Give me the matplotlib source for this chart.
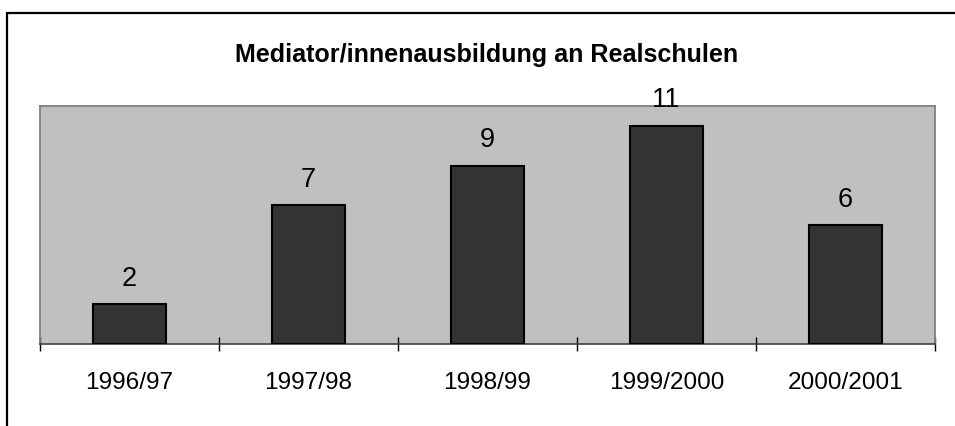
import matplotlib
matplotlib.use("Agg")
import matplotlib.pyplot as plt
from matplotlib.patches import Rectangle

categories = ["1996/97", "1997/98", "1998/99", "1999/2000", "2000/2001"]
values = [2, 7, 9, 11, 6]
title = "Mediator/innenausbildung an Realschulen"

plt.rcParams['font.family'] = ['Liberation Sans', 'DejaVu Sans']

W, H = 955, 426
fig = plt.figure(figsize=(W / 100, H / 100), dpi=100)

# figure border (left and top visible)
fig.patches.append(Rectangle((7 / W, -0.1), 1.2, (H - 13) / H + 0.1,
                             transform=fig.transFigure, fill=False,
                             edgecolor='black', linewidth=1.6))

ax = fig.add_axes([40 / W, (H - 344) / H, 895 / W, 238 / H])
ax.set_facecolor('#C0C0C0')
for s in ['top', 'left', 'right']:
    ax.spines[s].set_color('#808080')
    ax.spines[s].set_linewidth(1.3)
ax.spines['bottom'].set_color('#404040')
ax.spines['bottom'].set_linewidth(1.2)

x = list(range(len(categories)))
ax.bar(x, values, width=0.41, color='#333333', edgecolor='black', linewidth=1.5, zorder=3)
ax.set_xlim(-0.5, len(categories) - 0.5)
ax.set_ylim(0, 12)
ax.set_yticks([])

ax.set_xticks(x)
ax.set_xticklabels(categories, fontsize=17.6)
ax.tick_params(axis='x', which='major', length=0, pad=20)
ax.set_xticks([i - 0.5 for i in range(len(categories) + 1)], minor=True)
ax.tick_params(axis='x', which='minor', direction='inout', length=10, width=1, color='black')

for xi, v in zip(x, values):
    ax.annotate(str(v), (xi, v), xytext=(0, 13.3), textcoords='offset points',
                ha='center', va='baseline', fontsize=19.5, clip_on=False)

fig.text(487 / W, (H - 62) / H, title, ha='center', va='baseline',
         fontsize=18.1, fontweight='bold')

fig.savefig('out.png', dpi=100)
